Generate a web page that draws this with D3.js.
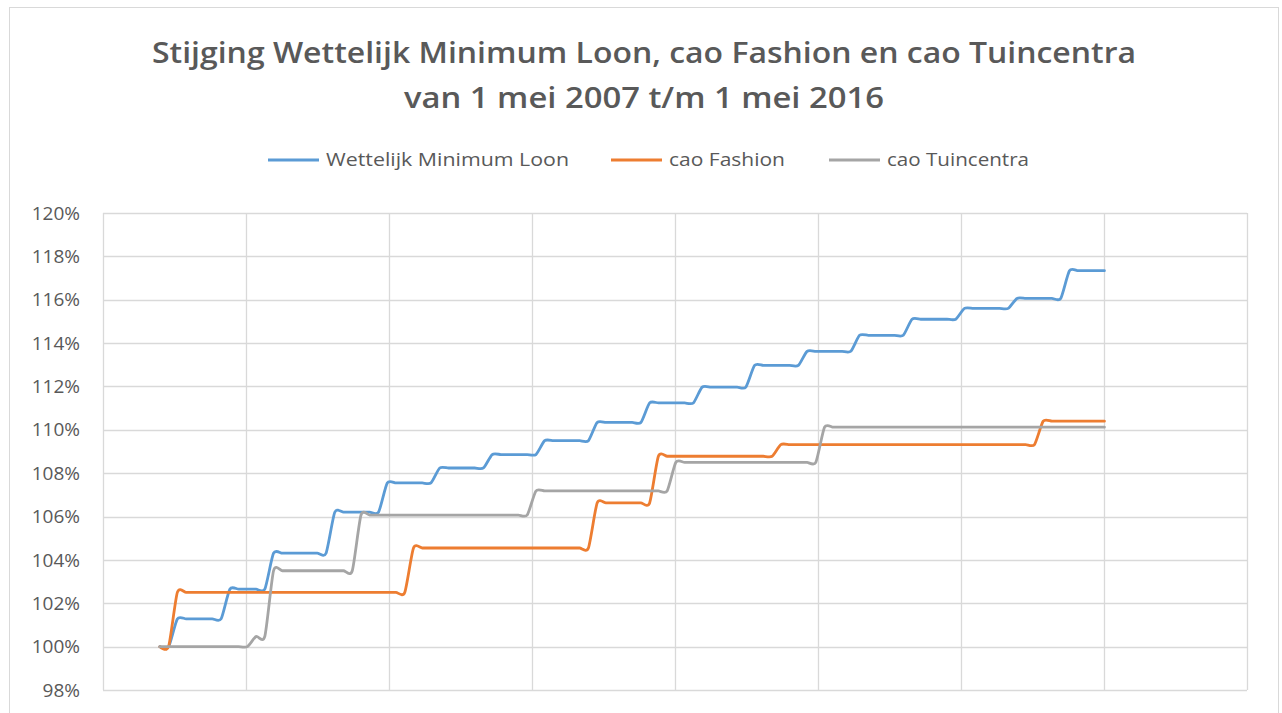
<!DOCTYPE html>
<html>
<head>
<meta charset="utf-8">
<script src="https://cdn.jsdelivr.net/npm/d3@7"></script>
<style>
  body { margin: 0; background: #fff; }
  svg { display: block; font-family: "Open Sans", "Noto Sans", sans-serif; }
</style>
</head>
<body>
<svg id="chart" width="1282" height="713"></svg>
<script>
// maandelijkse indexcijfers, 1 mei 2007 (index 0) t/m 1 mei 2016 (index 108)
var wml = [
  100, 100,
  101.28, 101.28, 101.28, 101.28, 101.28, 101.28,
  102.65, 102.65, 102.65, 102.65, 102.65,
  104.31, 104.31, 104.31, 104.31, 104.31, 104.31, 104.31,
  106.2, 106.2, 106.2, 106.2, 106.2, 106.2,
  107.55, 107.55, 107.55, 107.55, 107.55, 107.55,
  108.24, 108.24, 108.24, 108.24, 108.24, 108.24,
  108.86, 108.86, 108.86, 108.86, 108.86, 108.86,
  109.5, 109.5, 109.5, 109.5, 109.5, 109.5,
  110.34, 110.34, 110.34, 110.34, 110.34, 110.34,
  111.24, 111.24, 111.24, 111.24, 111.24, 111.24,
  111.97, 111.97, 111.97, 111.97, 111.97, 111.97,
  112.97, 112.97, 112.97, 112.97, 112.97, 112.97,
  113.62, 113.62, 113.62, 113.62, 113.62, 113.62,
  114.36, 114.36, 114.36, 114.36, 114.36, 114.36,
  115.1, 115.1, 115.1, 115.1, 115.1, 115.1,
  115.6, 115.6, 115.6, 115.6, 115.6, 115.6,
  116.06, 116.06, 116.06, 116.06, 116.06, 116.06,
  117.34, 117.34, 117.34, 117.34, 117.34
];
var fashion = [
  100, 100,
  102.5, 102.5, 102.5, 102.5, 102.5, 102.5, 102.5, 102.5, 102.5, 102.5,
  102.5, 102.5, 102.5, 102.5, 102.5, 102.5, 102.5, 102.5, 102.5, 102.5,
  102.5, 102.5, 102.5, 102.5, 102.5, 102.5, 102.5,
  104.55, 104.55, 104.55, 104.55, 104.55, 104.55, 104.55, 104.55, 104.55, 104.55,
  104.55, 104.55, 104.55, 104.55, 104.55, 104.55, 104.55, 104.55, 104.55, 104.55,
  104.55,
  106.63, 106.63, 106.63, 106.63, 106.63, 106.63, 106.63,
  108.78, 108.78, 108.78, 108.78, 108.78, 108.78, 108.78, 108.78, 108.78, 108.78,
  108.78, 108.78, 108.78, 108.78,
  109.32, 109.32, 109.32, 109.32, 109.32, 109.32, 109.32, 109.32, 109.32, 109.32,
  109.32, 109.32, 109.32, 109.32, 109.32, 109.32, 109.32, 109.32, 109.32, 109.32,
  109.32, 109.32, 109.32, 109.32, 109.32, 109.32, 109.32, 109.32, 109.32, 109.32,
  110.4, 110.4, 110.4, 110.4, 110.4, 110.4, 110.4, 110.4
];
var tuincentra = [
  100, 100, 100, 100, 100, 100, 100, 100, 100, 100, 100,
  100.47, 100.47,
  103.5, 103.5, 103.5, 103.5, 103.5, 103.5, 103.5, 103.5, 103.5, 103.5,
  106.07, 106.07, 106.07, 106.07, 106.07, 106.07, 106.07, 106.07, 106.07, 106.07,
  106.07, 106.07, 106.07, 106.07, 106.07, 106.07, 106.07, 106.07, 106.07, 106.07,
  107.18, 107.18, 107.18, 107.18, 107.18, 107.18, 107.18, 107.18,
  107.18, 107.18, 107.18, 107.18, 107.18, 107.18, 107.18, 107.18,
  108.5, 108.5, 108.5, 108.5, 108.5, 108.5, 108.5, 108.5, 108.5,
  108.5, 108.5, 108.5, 108.5, 108.5, 108.5, 108.5, 108.5,
  110.12, 110.12, 110.12, 110.12, 110.12, 110.12, 110.12, 110.12, 110.12, 110.12,
  110.12, 110.12, 110.12, 110.12, 110.12, 110.12, 110.12, 110.12, 110.12, 110.12,
  110.12, 110.12, 110.12, 110.12, 110.12, 110.12, 110.12, 110.12, 110.12, 110.12,
  110.12, 110.12, 110.12
];
var seriesNames = ["Wettelijk Minimum Loon", "cao Fashion", "cao Tuincentra"];
var yTicks = [98, 100, 102, 104, 106, 108, 110, 112, 114, 116, 118, 120];
var titleLines = ["Stijging Wettelijk Minimum Loon, cao Fashion en cao Tuincentra",
                  "van 1 mei 2007 t/m 1 mei 2016"];

var colors = ["#5b9bd5", "#ed7d31", "#a5a5a5"];
var series = [wml, fashion, tuincentra];

var svg = d3.select("#chart");
var plotLeft = 103, plotRight = 1247, plotTop = 213, plotBottom = 690;
var textColor = "#595959", gridColor = "#d9d9d9";

// chart frame
svg.append("rect")
  .attr("x", 9.5).attr("y", 7.5)
  .attr("width", 1269).attr("height", 720)
  .attr("fill", "#fff")
  .attr("stroke", gridColor);

var x = d3.scaleLinear().domain([-6.5, 124.3]).range([plotLeft, plotRight]);
var y = d3.scaleLinear().domain([98, 120]).range([plotBottom, plotTop]);
var cols = d3.scaleLinear().domain([0, 8]).range([plotLeft, plotRight]);

// gridlines
var grid = svg.append("g");
grid.selectAll(".hgrid").data(yTicks).enter().append("line")
  .attr("x1", plotLeft).attr("x2", plotRight)
  .attr("y1", function(d) { return Math.round(y(d)) + 0.5; })
  .attr("y2", function(d) { return Math.round(y(d)) + 0.5; })
  .attr("stroke", gridColor).attr("stroke-width", 1.3);
grid.selectAll(".vgrid").data(d3.range(9)).enter().append("line")
  .attr("y1", plotTop).attr("y2", plotBottom)
  .attr("x1", function(d) { return Math.round(cols(d)) + 0.5; })
  .attr("x2", function(d) { return Math.round(cols(d)) + 0.5; })
  .attr("stroke", gridColor).attr("stroke-width", 1.3);

// y axis labels
var yAxis = d3.axisLeft(y).tickValues(yTicks)
  .tickFormat(function(d) { return d + "%"; })
  .tickSize(0).tickPadding(23);
var yg = svg.append("g").attr("transform", "translate(" + plotLeft + ",0)").call(yAxis);
yg.select(".domain").remove();
yg.selectAll("text")
  .attr("fill", textColor)
  .style("font-size", "19px")
  .style("font-family", "'Open Sans', sans-serif");

// lines (Excel-achtige gladde lijn)
var line = d3.line()
  .x(function(d, i) { return x(i); })
  .y(function(d) { return y(d); })
  .curve(d3.curveCardinal.tension(0.3));

svg.append("g").selectAll("path").data(series).enter().append("path")
  .attr("d", line)
  .attr("fill", "none")
  .attr("stroke", function(d, i) { return colors[i]; })
  .attr("stroke-width", 2.8)
  .attr("stroke-linejoin", "round")
  .attr("stroke-linecap", "round");

// title
svg.append("g").selectAll("text").data(titleLines).enter().append("text")
  .attr("x", 644)
  .attr("y", function(d, i) { return 63 + i * 45; })
  .attr("text-anchor", "middle")
  .attr("fill", textColor)
  .style("font-size", "28px")
  .style("font-weight", 600)
  .attr("textLength", function(d, i) { return i === 0 ? 984 : 480; })
  .attr("lengthAdjust", "spacingAndGlyphs")
  .text(function(d) { return d; });

// legend
var legendX = [268, 611, 829];
var legendW = [243, 116, 142];
var lg = svg.append("g").selectAll("g").data(seriesNames).enter().append("g")
  .attr("transform", function(d, i) { return "translate(" + legendX[i] + ",160)"; });
lg.append("line")
  .attr("x1", 0).attr("x2", 51)
  .attr("stroke", function(d, i) { return colors[i]; })
  .attr("stroke-width", 2.8);
lg.append("text")
  .attr("x", 58).attr("dy", "0.35em")
  .attr("fill", textColor)
  .style("font-size", "18px")
  .attr("textLength", function(d, i) { return legendW[i]; })
  .attr("lengthAdjust", "spacingAndGlyphs")
  .text(function(d) { return d; });
</script>
</body>
</html>
